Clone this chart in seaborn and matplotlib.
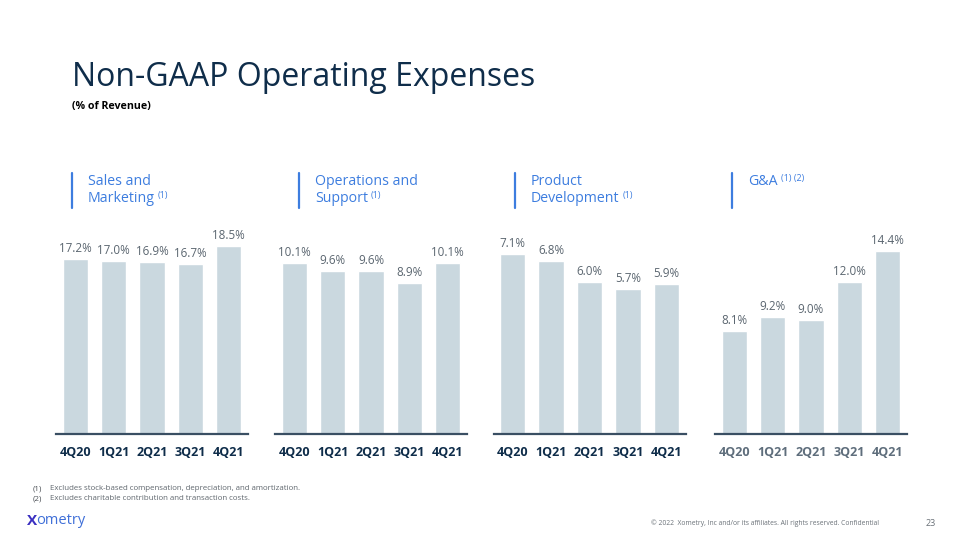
import matplotlib
matplotlib.use("Agg")
import matplotlib.pyplot as plt
import seaborn as sns
import pandas as pd

sns.set_theme(style="white")
plt.rcParams['font.family'] = ['Open Sans', 'DejaVu Sans']

# ---- data ----
quarters = ["4Q20", "1Q21", "2Q21", "3Q21", "4Q21"]
sales_marketing = [17.2, 17.0, 16.9, 16.7, 18.5]
operations_support = [10.1, 9.6, 9.6, 8.9, 10.1]
product_development = [7.1, 6.8, 6.0, 5.7, 5.9]
g_and_a = [8.1, 9.2, 9.0, 12.0, 14.4]

panel_titles = [["Sales and", "Marketing"], ["Operations and", "Support"],
                ["Product", "Development"], ["G&A"]]
panel_notes = ["(1)", "(1)", "(1)", "(1) (2)"]
footnotes = ["Excludes stock-based compensation, depreciation, and amortization.",
             "Excludes charitable contribution and transaction costs."]

series = [sales_marketing, operations_support, product_development, g_and_a]

W, H = 960, 540
fig = plt.figure(figsize=(W / 100, H / 100), dpi=100)
fig.patch.set_facecolor("white")

def fx(x):
    return x / W

def fy(y):
    return 1 - y / H

bar_color = "#cad8df"
navy = "#0f2d4a"
blue = "#3d7ddf"
axis_col = "#3a4f63"
label_col = "#5b6670"

lefts = [56, 275, 493.5, 715]
ylims = [20.08, 12.04, 8.04, 16.08]
ax_bottom, ax_top = 434, 230
tick_cols = [navy, navy, navy, "#5f6e7c"]

for i, vals in enumerate(series):
    ax = fig.add_axes([fx(lefts[i]), fy(ax_bottom), fx(192), (ax_bottom - ax_top) / H])
    df = pd.DataFrame({"q": quarters, "v": vals})
    sns.barplot(data=df, x="q", y="v", color=bar_color, saturation=1, width=0.66, ax=ax)
    ax.set_xlim(-0.5, 4.5)
    ax.set_ylim(0, ylims[i])
    ax.set_xlabel("")
    ax.set_ylabel("")
    ax.set_yticks([])
    for s in ["top", "left", "right"]:
        ax.spines[s].set_visible(False)
    ax.spines["bottom"].set_color(axis_col)
    ax.spines["bottom"].set_linewidth(1.6)
    ax.tick_params(axis="x", length=0, pad=9)
    for t in ax.get_xticklabels():
        t.set_fontsize(9)
        t.set_fontweight("bold")
        t.set_color(tick_cols[i])
    ax.patch.set_alpha(0)
    ax.bar_label(ax.containers[0], labels=[f"{v:.1f}%" for v in vals],
                 padding=3, fontsize=8.4, color=label_col)

# title
fig.text(fx(72), fy(86), "Non-GAAP Operating Expenses", fontsize=23, color=navy,
         va="baseline", ha="left")
fig.text(fx(72), fy(106), "(% of Revenue)", fontsize=7.7, fontweight="bold",
         color="black", va="center", ha="left")

# panel headers
renderer = fig.canvas.get_renderer()
bar_x = [72, 299, 515, 732]
for i in range(4):
    fig.add_artist(plt.Line2D([fx(bar_x[i]), fx(bar_x[i])], [fy(172.5), fy(207.5)],
                              color=blue, lw=1.6, transform=fig.transFigure))
    lines = panel_titles[i]
    last = None
    for j, line in enumerate(lines):
        last = fig.text(fx(bar_x[i] + 16), fy(181.5 + 16.7 * j), line, fontsize=10.2,
                        color=blue, va="center", ha="left")
    bb = last.get_window_extent(renderer=renderer)
    y_line = 181.5 + 16.7 * (len(lines) - 1)
    fig.text(bb.x1 / W + fx(3), fy(y_line - 3), panel_notes[i], fontsize=6.5,
             color=blue, va="center", ha="left")

# footnotes
for k, note in enumerate(footnotes):
    fig.text(fx(33), fy(489 + 9.5 * k), f"({k + 1})", fontsize=5.8, color="#4a4f55",
             va="center", ha="left")
    fig.text(fx(50), fy(489 + 9.5 * k), note, fontsize=5.7, color="#5f666d",
             va="center", ha="left")

# logo
lx = fig.text(fx(27), fy(521), "X", fontsize=11, fontweight="bold", color="#3a2fc0",
              va="center", ha="left")
bb = lx.get_window_extent(renderer=renderer)
fig.text(bb.x1 / W - fx(1), fy(521), "ometry", fontsize=10.5, color="#3f6fd8",
         va="center", ha="left")

fig.text(fx(651), fy(523), "\u00a9 2022  Xometry, Inc and/or its affiliates. All rights reserved. Confidential",
         fontsize=4.9, color="#6a7178", va="center", ha="left")
fig.text(fx(936), fy(523), "23", fontsize=6.5, color="#6a7178", va="center", ha="right")

fig.savefig("out.png", dpi=100, facecolor="white")
